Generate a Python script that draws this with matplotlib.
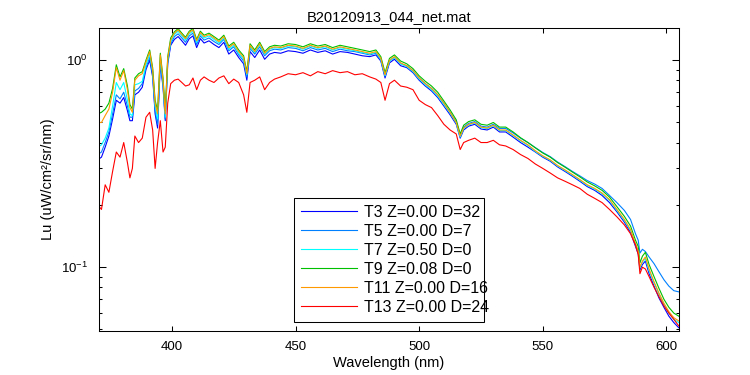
import matplotlib
matplotlib.use("Agg")
import matplotlib.pyplot as plt
from matplotlib.ticker import LogLocator, FixedLocator, NullFormatter

plt.rcParams['font.family'] = ['Liberation Sans', 'DejaVu Sans']
plt.rcParams['mathtext.default'] = 'regular'

title = "B20120913_044_net.mat"
xlabel = "Wavelength (nm)"
ylabel = "Lu (uW/cm\u00b2/sr/nm)"
labels = ["T3 Z=0.00 D=32", "T5 Z=0.00 D=7", "T7 Z=0.50 D=0",
          "T9 Z=0.08 D=0", "T11 Z=0.00 D=16", "T13 Z=0.00 D=24"]
colors = ["#0000FF", "#0080FF", "#00FFFF", "#00C000", "#FF9900", "#FF0000"]
xticks = [400, 450, 500, 550, 600]

wl = [370, 371.5, 373, 374.5, 376, 377.5, 379, 380.5, 382, 383, 384, 385, 386.5, 388, 389.5,
      391, 392.2, 393.2, 394.2, 395.3, 396.4, 397.3, 398.3, 399.5, 401, 402.5, 404, 405.5,
      407, 408.5, 410, 411.5, 413, 415, 417, 419, 421, 423, 425, 427, 429, 430.3, 431.6,
      433.5, 435.5, 437.5, 439.5, 441.5, 444, 447, 450, 453, 456, 459, 462, 465, 468, 471,
      474, 477, 480, 482.5, 484.5, 486.2, 488, 490, 492.5, 495, 497.5, 500, 502.5, 505,
      507.5, 510, 512.5, 515, 516.6, 518, 520, 522.5, 525, 527.5, 530, 532.5, 535, 538,
      541, 544, 547, 550, 553, 556, 559, 562, 565, 568, 571, 574, 577, 580, 583, 585.5,
      587.5, 588.6, 589.3, 590.3, 591.5, 593, 595, 597, 599, 601, 603, 605]

t3 = [0.33, 0.34, 0.38, 0.43, 0.52, 0.64, 0.62, 0.66, 0.57, 0.51, 0.51, 0.68, 0.70, 0.74, 0.90,
      1.00, 0.83, 0.55, 0.47, 0.96, 0.74, 0.51, 0.96, 1.18, 1.26, 1.30, 1.24, 1.18,
      1.27, 1.31, 1.15, 1.27, 1.21, 1.24, 1.19, 1.15, 1.22, 1.07, 1.12, 1.03, 0.96, 0.80, 1.10,
      1.03, 1.12, 1.01, 1.07, 1.09, 1.08, 1.11, 1.10, 1.08, 1.12, 1.09, 1.11, 1.07, 1.10, 1.09,
      1.07, 1.05, 1.04, 1.06, 0.99, 0.82, 0.97, 1.01, 0.94, 0.92, 0.87, 0.80, 0.75, 0.71,
      0.66, 0.60, 0.545, 0.49, 0.42, 0.46, 0.48, 0.49, 0.465, 0.46, 0.475, 0.45, 0.45, 0.425,
      0.40, 0.38, 0.36, 0.34, 0.325, 0.305, 0.29, 0.275, 0.26, 0.245, 0.235, 0.222, 0.205, 0.185, 0.165, 0.147,
      0.126, 0.116, 0.097, 0.103, 0.107, 0.093, 0.081, 0.071, 0.064, 0.058, 0.054, 0.051]

t5 = [0.35, 0.36, 0.40, 0.45, 0.55, 0.68, 0.65, 0.70, 0.60, 0.53, 0.53, 0.71, 0.73, 0.77, 0.92,
      1.03, 0.85, 0.57, 0.49, 0.99, 0.76, 0.52, 0.98, 1.20, 1.30, 1.34, 1.28, 1.22,
      1.31, 1.35, 1.19, 1.31, 1.25, 1.28, 1.23, 1.19, 1.26, 1.11, 1.16, 1.06, 0.99, 0.83, 1.14,
      1.07, 1.16, 1.05, 1.11, 1.13, 1.12, 1.15, 1.14, 1.11, 1.15, 1.12, 1.14, 1.10, 1.13, 1.11,
      1.10, 1.08, 1.06, 1.08, 1.00, 0.84, 0.99, 1.03, 0.96, 0.94, 0.89, 0.82, 0.77, 0.73,
      0.68, 0.62, 0.56, 0.505, 0.43, 0.475, 0.495, 0.505, 0.48, 0.475, 0.49, 0.468, 0.468, 0.445,
      0.42, 0.40, 0.378, 0.358, 0.342, 0.322, 0.306, 0.29, 0.276, 0.262, 0.252, 0.24, 0.222, 0.205, 0.188, 0.17,
      0.145, 0.135, 0.117, 0.122, 0.119, 0.112, 0.104, 0.095, 0.087, 0.081, 0.077, 0.076]

t7 = [0.38, 0.39, 0.42, 0.47, 0.60, 0.78, 0.72, 0.78, 0.64, 0.55, 0.54, 0.76, 0.77, 0.79, 0.95,
      1.07, 0.88, 0.60, 0.52, 1.03, 0.78, 0.53, 1.00, 1.23, 1.33, 1.38, 1.31, 1.25,
      1.34, 1.38, 1.22, 1.34, 1.28, 1.31, 1.26, 1.21, 1.28, 1.13, 1.18, 1.08, 1.01, 0.85, 1.16,
      1.09, 1.18, 1.07, 1.13, 1.15, 1.14, 1.17, 1.16, 1.13, 1.17, 1.14, 1.16, 1.12, 1.15, 1.13,
      1.11, 1.09, 1.07, 1.09, 1.01, 0.84, 0.99, 1.03, 0.96, 0.93, 0.88, 0.81, 0.76, 0.72,
      0.67, 0.61, 0.555, 0.497, 0.425, 0.467, 0.487, 0.497, 0.472, 0.467, 0.482, 0.457, 0.457, 0.432,
      0.407, 0.387, 0.362, 0.343, 0.328, 0.308, 0.293, 0.278, 0.263, 0.248, 0.238, 0.226, 0.21, 0.188, 0.168, 0.15,
      0.129, 0.119, 0.099, 0.106, 0.11, 0.096, 0.084, 0.074, 0.066, 0.06, 0.056, 0.054]

t9 = [0.55, 0.56, 0.58, 0.62, 0.73, 0.95, 0.83, 0.91, 0.75, 0.61, 0.58, 0.82, 0.86, 0.88, 1.00,
      1.12, 0.92, 0.64, 0.57, 1.08, 0.82, 0.57, 1.04, 1.28, 1.37, 1.42, 1.35, 1.29,
      1.38, 1.42, 1.26, 1.38, 1.32, 1.35, 1.30, 1.25, 1.32, 1.17, 1.22, 1.12, 1.05, 0.88, 1.20,
      1.12, 1.22, 1.10, 1.16, 1.18, 1.17, 1.20, 1.19, 1.16, 1.20, 1.17, 1.19, 1.15, 1.18, 1.16,
      1.14, 1.12, 1.10, 1.12, 1.04, 0.87, 1.02, 1.06, 0.99, 0.96, 0.91, 0.84, 0.79, 0.75,
      0.70, 0.635, 0.575, 0.515, 0.44, 0.485, 0.505, 0.515, 0.49, 0.485, 0.50, 0.475, 0.475, 0.45,
      0.422, 0.40, 0.377, 0.356, 0.34, 0.32, 0.304, 0.288, 0.273, 0.258, 0.247, 0.235, 0.218, 0.196, 0.176, 0.158,
      0.135, 0.126, 0.105, 0.113, 0.118, 0.103, 0.09, 0.079, 0.07, 0.064, 0.06, 0.058]

t11 = [0.50, 0.50, 0.54, 0.58, 0.70, 0.92, 0.80, 0.89, 0.72, 0.59, 0.56, 0.80, 0.84, 0.86, 0.98,
       1.10, 0.90, 0.62, 0.55, 1.06, 0.80, 0.55, 1.02, 1.25, 1.35, 1.40, 1.33, 1.27,
       1.36, 1.40, 1.24, 1.36, 1.30, 1.33, 1.28, 1.23, 1.30, 1.15, 1.20, 1.10, 1.03, 0.86, 1.18,
       1.10, 1.20, 1.08, 1.14, 1.16, 1.15, 1.18, 1.17, 1.14, 1.18, 1.15, 1.17, 1.13, 1.16, 1.14,
       1.12, 1.10, 1.08, 1.10, 1.02, 0.85, 1.00, 1.04, 0.97, 0.94, 0.89, 0.82, 0.77, 0.73,
       0.68, 0.62, 0.56, 0.50, 0.43, 0.47, 0.49, 0.50, 0.475, 0.47, 0.485, 0.46, 0.46, 0.435,
       0.41, 0.39, 0.365, 0.345, 0.33, 0.31, 0.295, 0.28, 0.265, 0.25, 0.24, 0.228, 0.212, 0.19, 0.17, 0.152,
       0.13, 0.12, 0.10, 0.107, 0.112, 0.098, 0.085, 0.075, 0.067, 0.061, 0.057, 0.055]

t13 = [0.20, 0.19, 0.25, 0.23, 0.29, 0.36, 0.34, 0.40, 0.32, 0.27, 0.30, 0.43, 0.40, 0.42, 0.53,
       0.56, 0.46, 0.30, 0.40, 0.51, 0.36, 0.38, 0.62, 0.77, 0.80, 0.81, 0.78, 0.75,
       0.76, 0.82, 0.72, 0.80, 0.83, 0.80, 0.78, 0.82, 0.84, 0.77, 0.81, 0.78, 0.68, 0.56, 0.78,
       0.80, 0.83, 0.72, 0.78, 0.81, 0.83, 0.86, 0.85, 0.87, 0.84, 0.88, 0.86, 0.89, 0.87, 0.88,
       0.85, 0.86, 0.83, 0.81, 0.78, 0.64, 0.77, 0.80, 0.75, 0.74, 0.72, 0.64, 0.61, 0.59,
       0.54, 0.49, 0.46, 0.44, 0.37, 0.40, 0.41, 0.42, 0.40, 0.40, 0.41, 0.39, 0.385, 0.37,
       0.35, 0.335, 0.315, 0.30, 0.285, 0.27, 0.26, 0.25, 0.24, 0.225, 0.215, 0.205, 0.19, 0.175, 0.16, 0.145,
       0.128, 0.115, 0.093, 0.10, 0.098, 0.09, 0.08, 0.072, 0.065, 0.06, 0.056, 0.052]

series = [t3, t5, t7, t9, t11, t13]

fig = plt.figure(figsize=(7.5, 3.75), dpi=100)
ax = fig.add_axes([0.132, 0.117, 0.773, 0.808])
for ys, lab, c in zip(series, labels, colors):
    ax.plot(wl, ys, color=c, lw=0.8, label=lab)

ax.set_yscale('log')
ax.set_xlim(370.5, 605)
ax.set_ylim(0.0491, 1.428)
ax.xaxis.set_major_locator(FixedLocator(xticks))
ax.yaxis.set_major_locator(LogLocator(base=10, numticks=10))
ax.yaxis.set_minor_locator(LogLocator(base=10, subs=[0.2, 0.3, 0.4, 0.5, 0.6, 0.7, 0.8, 0.9], numticks=10))
ax.yaxis.set_minor_formatter(NullFormatter())
ax.tick_params(axis='both', which='both', direction='in', top=True, right=True, width=0.75, labelsize=9.5)
ax.tick_params(axis='x', which='major', length=3.6, pad=7)
ax.tick_params(axis='y', which='major', length=5, pad=8)
ax.tick_params(axis='y', which='minor', length=2.5)
for s in ax.spines.values():
    s.set_linewidth(0.75)

ax.set_title(title, fontsize=10.5, pad=5)
ax.set_xlabel(xlabel, fontsize=10.5, labelpad=2)
ax.set_ylabel(ylabel, fontsize=10.5, labelpad=4)

leg = ax.legend(loc='lower left', bbox_to_anchor=(0.336, 0.030, 0.328, 0.40), mode='expand',
                borderaxespad=0, fontsize=11.5, handlelength=3.5, handletextpad=0.45,
                labelspacing=0.25, borderpad=0.45, fancybox=False, framealpha=1)
leg.get_frame().set_edgecolor('black')
leg.get_frame().set_linewidth(0.75)

fig.savefig("out.png", dpi=100)
